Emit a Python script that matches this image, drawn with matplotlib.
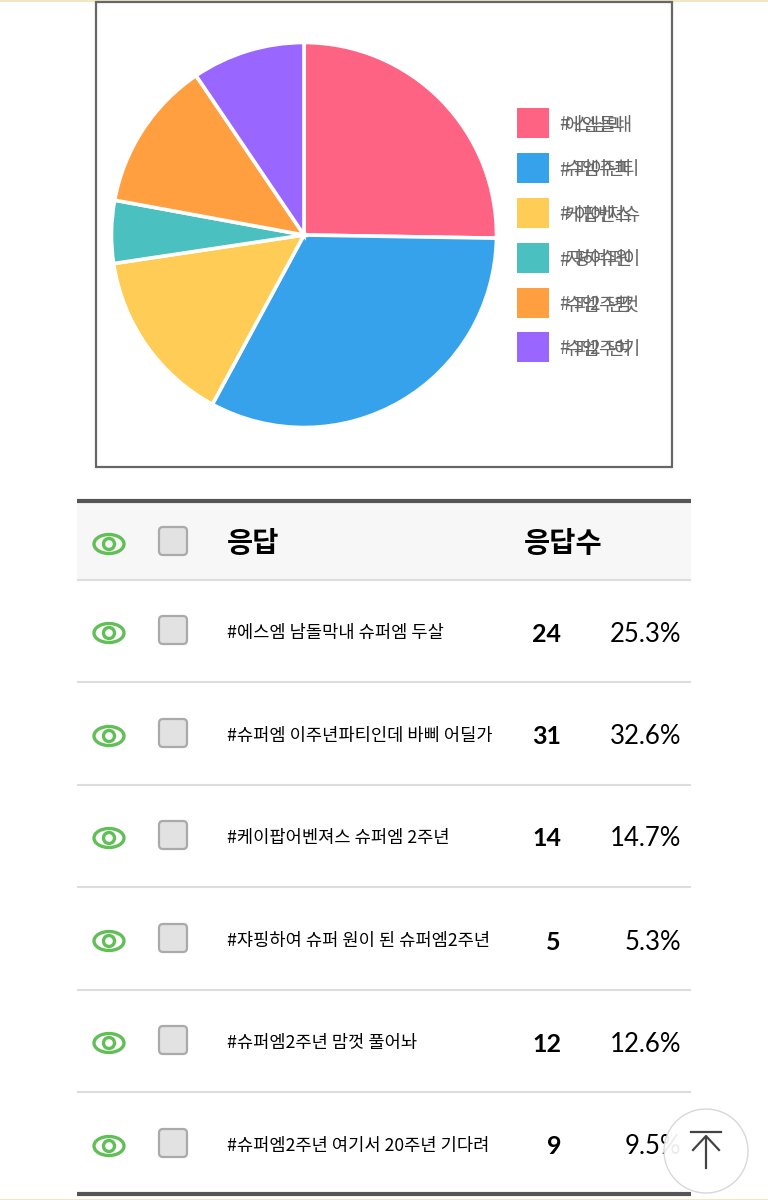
import matplotlib
matplotlib.use('Agg')
import matplotlib.pyplot as plt
from matplotlib.patches import Rectangle, Ellipse, Circle, FancyBboxPatch

ko_font = ['Noto Sans CJK KR', 'DejaVu Sans']
num_font = 'Lato'

answers = ['#에스엠 남돌막내 슈퍼엠 두살', '#슈퍼엠 이주년파티인데 바삐 어딜가', '#케이팝어벤져스 슈퍼엠 2주년',
           '#쟈핑하여 슈퍼 원이 된 슈퍼엠2주년', '#슈퍼엠2주년 맘껏 풀어놔', '#슈퍼엠2주년 여기서 20주년 기다려']
counts = [24, 31, 14, 5, 12, 9]
percents = ['25.3%', '32.6%', '14.7%', '5.3%', '12.6%', '9.5%']
legend_labels = ['#에스엠남돌막내', '#슈퍼엠이주년파티', '#케이팝어벤져스슈', '#쟈핑하여슈퍼원이', '#슈퍼엠2주년맘껏', '#슈퍼엠2주년여기']
colors = ['#ff6384', '#36a2eb', '#ffcd56', '#4bc0c0', '#ff9f40', '#9966ff']
header = ['응답', '응답수']

fig = plt.figure(figsize=(7.68, 12), dpi=100)
ax = fig.add_axes([0, 0, 1, 1])
ax.set_xlim(0, 768)
ax.set_ylim(1200, 0)
ax.axis('off')

# page edges and chart frame
ax.add_patch(Rectangle((0, 0), 768, 1.5, color='#f3e6c4', lw=0))
ax.add_patch(Rectangle((0, 1198.5), 768, 1.5, color='#f3e6c4', lw=0))
ax.add_patch(Rectangle((96, 2), 576, 465, fill=False, ec='#666666', lw=1.6))

# pie, centre (304, 235)
pie_ax = fig.add_axes([(304 - 197) / 768, 1 - (235 + 197) / 1200, 394 / 768, 394 / 1200])
pie_ax.pie(counts, colors=colors, startangle=90, counterclock=False, radius=192.5 / 197,
           wedgeprops={'edgecolor': 'white', 'linewidth': 2.6})
pie_ax.set_xlim(-1, 1)
pie_ax.set_ylim(-1, 1)

# legend, the labels in the source are squashed so glyphs overlap
legend_y = [125, 170, 215, 260, 305, 349]
swatch_y = [123, 168, 213, 258, 303, 347]
for y, sy, c, label in zip(legend_y, swatch_y, colors, legend_labels):
    ax.add_patch(Rectangle((517, sy - 15), 32, 30, color=c, lw=0))
    x = 559
    for ch in label:
        ax.text(x, y, ch, fontsize=13.5, family=ko_font, color='#666666', ha='left', va='center')
        x += 8.2 if ch != '#' else 6

# table
ax.add_patch(Rectangle((77, 503), 614, 76, color='#f7f7f7', lw=0))
ax.plot([77, 691], [501, 501], color='#555555', lw=3, solid_capstyle='butt')
ax.plot([77, 691], [1194, 1194], color='#555555', lw=3, solid_capstyle='butt')
line_y = [580, 682, 785, 887, 990, 1092]
for y in line_y:
    ax.plot([77, 691], [y, y], color='#dddddd', lw=1.5, solid_capstyle='butt')


def row_icons(y):
    ax.add_patch(Ellipse((109, y), 30, 19, fill=False, ec='#62bf58', lw=2.4))
    ax.add_patch(Circle((109, y), 5.5, fill=False, ec='#62bf58', lw=2.4))
    ax.add_patch(FancyBboxPatch((159, y - 17), 28, 28, boxstyle='round,pad=0,rounding_size=4',
                                fc='#e2e2e2', ec='#aaaaaa', lw=1.6))


row_icons(544)
ax.text(227, 544, header[0], fontsize=20.5, family=ko_font, weight='bold', color='black', va='center')
ax.text(524, 544, header[1], fontsize=20.5, family=ko_font, weight='bold', color='black', va='center')

row_y = [633, 736, 838, 941, 1043, 1146]
for y, a, n, p in zip(row_y, answers, counts, percents):
    row_icons(y)
    ax.text(227, y, a, fontsize=12.7, family=ko_font, color='black', va='center')
    ax.text(561, y + 1, str(n), fontsize=18, family=num_font, weight='bold', color='black', ha='right', va='center')
    ax.text(681.5, y + 1, p, fontsize=18.5, family=num_font, color='black', ha='right', va='center')

# back to top button
ax.add_patch(Circle((706, 1151), 42, fc='white', ec='#d5d5d5', lw=1, alpha=0.93, zorder=5))
ax.plot([691, 721], [1132, 1132], color='#444444', lw=1.6, zorder=6)
ax.plot([706, 706], [1138, 1168], color='#444444', lw=1.6, zorder=6)
ax.plot([693, 706, 719], [1150, 1136, 1150], color='#444444', lw=1.6, zorder=6)

fig.savefig('out.png', dpi=100)
